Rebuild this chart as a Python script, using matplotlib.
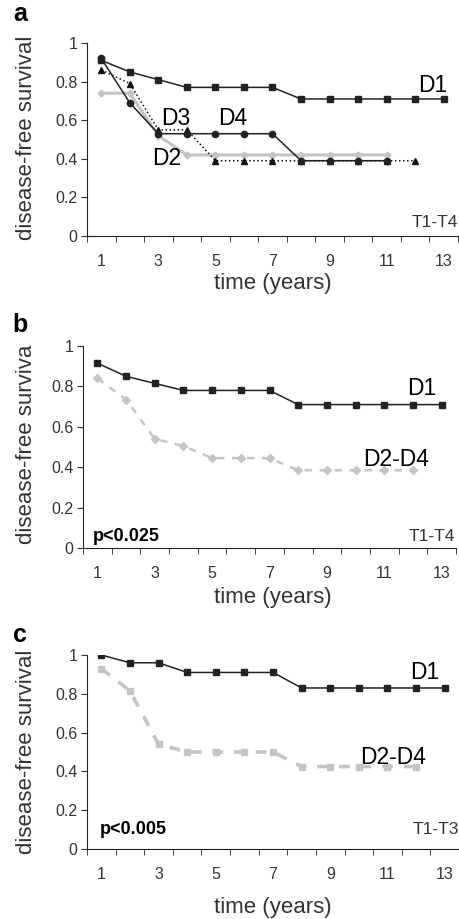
import matplotlib
matplotlib.use('Agg')
import matplotlib.pyplot as plt
import numpy as np

plt.rcParams['font.family'] = ['Liberation Sans', 'DejaVu Sans']

# read data (values off the figure)
years = np.arange(1, 14)

# panel a
a_d1 = [0.91, 0.85, 0.81, 0.77, 0.77, 0.77, 0.77, 0.71, 0.71, 0.71, 0.71, 0.71, 0.71]
a_d2 = [0.74, 0.74, 0.52, 0.42, 0.42, 0.42, 0.42, 0.42, 0.42, 0.42, 0.42]
a_d3 = [0.86, 0.79, 0.55, 0.55, 0.39, 0.39, 0.39, 0.39, 0.39, 0.39, 0.39, 0.39]
a_d4 = [0.92, 0.69, 0.53, 0.53, 0.53, 0.53, 0.53, 0.39, 0.39, 0.39, 0.39]

# panel b
b_d1 = [0.915, 0.85, 0.815, 0.78, 0.78, 0.78, 0.78, 0.71, 0.71, 0.71, 0.71, 0.71, 0.71]
b_d24 = [0.84, 0.735, 0.54, 0.505, 0.445, 0.445, 0.445, 0.385, 0.385, 0.385, 0.385, 0.385]

# panel c
c_d1 = [1.0, 0.96, 0.96, 0.91, 0.91, 0.91, 0.91, 0.83, 0.83, 0.83, 0.83, 0.83, 0.83]
c_d24 = [0.93, 0.815, 0.54, 0.50, 0.50, 0.50, 0.50, 0.425, 0.425, 0.425, 0.425, 0.425]

ylab = ['disease-free survival', 'disease-free surviva', 'disease-free survival']
yticks = [0, 0.2, 0.4, 0.6, 0.8, 1]
yticklabels = ['0', '0.2', '0.4', '0.6', '0.8', '1']
xticklabels = ['1', '3', '5', '7', '9', '11', '13']

gray = '#c4c4c4'
tick_fs = 11.5
big_fs = 16.5
lab_fs = 16

fig = plt.figure(figsize=(4.6, 9.19), dpi=100)

# axes rects in pixels: left, top(y=1), right, bottom(y=0)
rects = [(87, 43, 458, 236), (83, 346, 456, 548), (87, 655, 459, 849)]
axs = []
for (l, t, r, b) in rects:
    ax = fig.add_axes([l / 460, (919 - b) / 919, (r - l) / 460, (b - t) / 919])
    axs.append(ax)

for i, ax in enumerate(axs):
    ax.set_xlim(0.5, 13.5)
    ax.set_ylim(0, 1)
    ax.spines['top'].set_visible(False)
    ax.spines['right'].set_visible(False)
    ax.spines['left'].set_color('#222222')
    ax.spines['bottom'].set_color('#222222')
    ax.set_yticks(yticks)
    ax.set_yticklabels(yticklabels)
    ax.set_xticks(np.arange(1, 14, 2))
    ax.set_xticklabels(xticklabels)
    ax.set_xticks(np.arange(0.5, 14, 1), minor=True)
    ax.tick_params(axis='x', which='major', length=0, pad=13, labelsize=tick_fs, colors='#333333')
    ax.tick_params(axis='x', which='minor', length=4, direction='out', color='#222222')
    ax.tick_params(axis='y', length=4, direction='out', pad=3, labelsize=tick_fs, colors='#333333')
    ax.patch.set_visible(False)

# Panel a --->
ax = axs[0]
ax.plot(years[:len(a_d2)], a_d2, '-', color=gray, lw=2.2, marker='D', ms=3.5, mec=gray, mfc=gray, zorder=1)
ax.plot(years[:len(a_d3)], a_d3, ':', color='#111111', lw=1.1, marker='^', ms=5, zorder=2)
ax.plot(years[:len(a_d4)], a_d4, '-', color='#222222', lw=1.1, marker='o', ms=4.5, zorder=3)
ax.plot(years, a_d1, '-', color='#222222', lw=1.1, marker='s', ms=4.5, zorder=3)
ax.text(12.6, 0.78, 'D1', fontsize=big_fs, ha='center', va='center')
ax.text(3.6, 0.61, 'D3', fontsize=big_fs, ha='center', va='center')
ax.text(5.6, 0.61, 'D4', fontsize=big_fs, ha='center', va='center')
ax.text(3.3, 0.40, 'D2', fontsize=big_fs, ha='center', va='center')
ax.text(13.5, 0.07, 'T1-T4', fontsize=12.5, ha='right', va='center', color='#333333')
# <--- Panel a

# Panel b --->
ax = axs[1]
ax.plot(years[:len(b_d24)], b_d24, '--', color=gray, lw=1.8, marker='D', ms=4, mec=gray, mfc=gray, dashes=(3, 3))
ax.plot(years, b_d1, '-', color='#222222', lw=1.1, marker='s', ms=4.5)
ax.text(12.3, 0.79, 'D1', fontsize=big_fs, ha='center', va='center')
ax.text(11.4, 0.44, 'D2-D4', fontsize=big_fs, ha='center', va='center')
ax.text(0.85, 0.055, 'p<0.025', fontsize=13, fontweight='bold', ha='left', va='center')
ax.text(13.45, 0.055, 'T1-T4', fontsize=12.5, ha='right', va='center', color='#333333')
# <--- Panel b

# Panel c --->
ax = axs[2]
ax.plot(years[:len(c_d24)], c_d24, '--', color=gray, lw=2.6, marker='s', ms=4, mec=gray, mfc=gray, dashes=(3, 3))
ax.plot(years, c_d1, '-', color='#222222', lw=1.1, marker='s', ms=4.5)
ax.text(12.3, 0.91, 'D1', fontsize=big_fs, ha='center', va='center')
ax.text(11.2, 0.47, 'D2-D4', fontsize=big_fs, ha='center', va='center')
ax.text(0.95, 0.10, 'p<0.005', fontsize=13, fontweight='bold', ha='left', va='center')
ax.text(13.5, 0.10, 'T1-T3', fontsize=12.5, ha='right', va='center', color='#333333')
# <--- Panel c

# axis labels and panel letters in pixel positions
for ylabel, ymid in zip(ylab, [138, 444, 752]):
    fig.text(27 / 460, 1 - ymid / 919, ylabel, rotation=90, fontsize=lab_fs, ha='center', va='center', color='#333333')
for ypx in [283, 597, 907]:
    fig.text(273 / 460, 1 - ypx / 919, 'time (years)', fontsize=lab_fs, ha='center', va='center', color='#333333')
for lab, ypx in zip(['a', 'b', 'c'], [14, 325, 635]):
    fig.text(20 / 460, 1 - ypx / 919, lab, fontsize=18, fontweight='bold', ha='center', va='center')

fig.savefig('out.png', dpi=100)
